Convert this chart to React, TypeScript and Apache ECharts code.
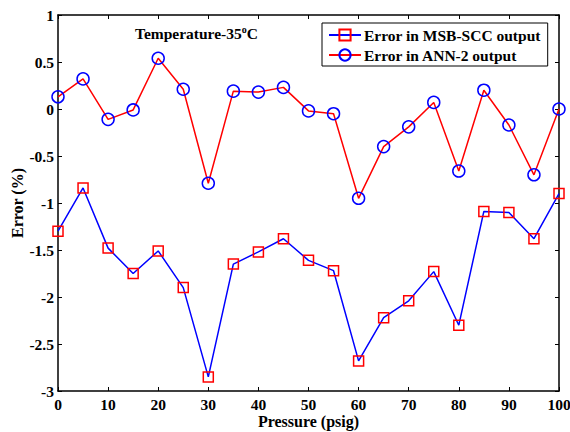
import React, { useEffect, useRef } from "react";
import * as echarts from "echarts";

const pressure = [0, 5, 10, 15, 20, 25, 30, 35, 40, 45, 50, 55, 60, 65, 70, 75, 80, 85, 90, 95, 100];
const msbScc = [-1.3, -0.84, -1.48, -1.75, -1.51, -1.9, -2.85, -1.65, -1.52, -1.38, -1.61, -1.72, -2.68, -2.22, -2.04, -1.73, -2.3, -1.09, -1.1, -1.38, -0.9];
const ann2 = [0.13, 0.32, -0.11, -0.01, 0.54, 0.21, -0.79, 0.19, 0.18, 0.23, -0.02, -0.05, -0.95, -0.4, -0.19, 0.07, -0.66, 0.2, -0.17, -0.7, 0];
const seriesNames = ["Error in MSB-SCC output", "Error in ANN-2 output"];

const FONT = "'Liberation Serif', 'Times New Roman', serif";

export default function App() {
  const ref = useRef<HTMLDivElement>(null);
  useEffect(() => {
    if (!ref.current) return;
    const chart = echarts.init(ref.current, null, { renderer: "svg" });
    const axisLabel = { color: "#000", fontFamily: FONT, fontWeight: "bold", fontSize: 15.5, lineHeight: 15 };
    const tick = { inside: true, length: 4, lineStyle: { color: "#000" } };
    const line = { onZero: false, lineStyle: { color: "#000", width: 1.5 } };
    chart.setOption({
      animation: false,
      backgroundColor: "#fff",
      grid: { left: 58, top: 15, width: 501, height: 376, containLabel: false, outerBoundsMode: "none" },
      title: {
        text: "Temperature-35{sup|o}C",
        left: 135,
        top: 24,
        padding: 0,
        textStyle: {
          fontFamily: FONT,
          fontWeight: "bold",
          fontSize: 15.5,
          color: "#000",
          rich: {
            sup: { fontFamily: FONT, fontWeight: "bold", fontSize: 10, verticalAlign: "top", padding: [0, 0, 8, 0], color: "#000" },
          },
        },
      },
      legend: {
        orient: "vertical",
        left: 322,
        top: 23,
        padding: [4, 7, 3, 6],
        itemGap: 4,
        itemWidth: 32,
        itemHeight: 14,
        borderColor: "#000",
        borderWidth: 1,
        borderRadius: 0,
        backgroundColor: "#fff",
        data: seriesNames,
        textStyle: { fontFamily: FONT, fontWeight: "bold", fontSize: 15.5, color: "#000", padding: [0, 0, 0, -2] },
      },
      xAxis: [
        {
          type: "value",
          min: 0,
          max: 100,
          interval: 10,
          name: "Pressure (psig)",
          nameLocation: "middle",
          nameGap: 22,
          nameMoveOverlap: false,
          nameTextStyle: { color: "#000", fontFamily: FONT, fontWeight: "bold", fontSize: 16, lineHeight: 17 },
          axisLine: line,
          axisTick: tick,
          axisLabel: { ...axisLabel, margin: 6 },
          splitLine: { show: false },
        },
        {
          type: "value",
          position: "top",
          min: 0,
          max: 100,
          interval: 10,
          axisLine: line,
          axisTick: tick,
          axisLabel: { show: false },
          splitLine: { show: false },
        },
      ],
      yAxis: [
        {
          type: "value",
          min: -3,
          max: 1,
          interval: 0.5,
          name: "Error (%)",
          nameLocation: "middle",
          nameGap: 33,
          nameMoveOverlap: false,
          nameTextStyle: { color: "#000", fontFamily: FONT, fontWeight: "bold", fontSize: 16 },
          axisLine: line,
          axisTick: tick,
          axisLabel: { ...axisLabel, margin: 4 },
          splitLine: { show: false },
        },
        {
          type: "value",
          position: "right",
          min: -3,
          max: 1,
          interval: 0.5,
          axisLine: line,
          axisTick: tick,
          axisLabel: { show: false },
          splitLine: { show: false },
        },
      ],
      series: [
        {
          name: seriesNames[0],
          type: "line",
          data: pressure.map((p, i) => [p, msbScc[i]]),
          symbol: "rect",
          symbolSize: 10,
          lineStyle: { color: "#0000ff", width: 1.5 },
          itemStyle: { color: "rgba(0,0,0,0)", borderColor: "#ff0000", borderWidth: 1.5 },
          z: 3,
        },
        {
          name: seriesNames[1],
          type: "line",
          data: pressure.map((p, i) => [p, ann2[i]]),
          symbol: "circle",
          symbolSize: 12,
          lineStyle: { color: "#ff0000", width: 1.5 },
          itemStyle: { color: "rgba(0,0,0,0)", borderColor: "#0000ff", borderWidth: 1.5 },
          z: 3,
        },
      ],
    });
    return () => chart.dispose();
  }, []);
  return <div ref={ref} style={{ width: 570, height: 432, position: "absolute", left: 0, top: 0 }} />;
}
